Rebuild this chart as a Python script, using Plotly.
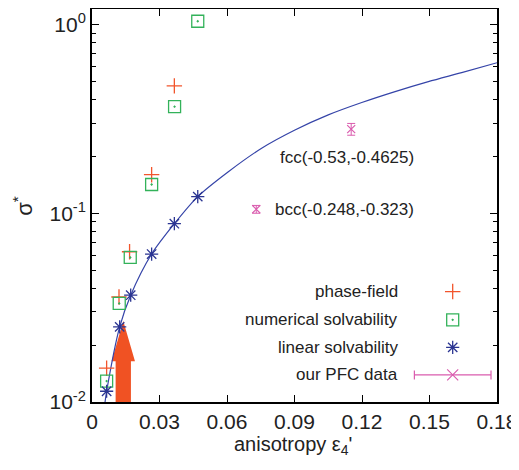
import math
import plotly.graph_objects as go

# ---------------- data ----------------
pf_eps = [0.0065, 0.0120, 0.0167, 0.0265, 0.0366]
pf_sigma = [0.0151, 0.0360, 0.0625, 0.160, 0.473]

num_eps = [0.0065, 0.0121, 0.0170, 0.0265, 0.0367, 0.0470]
num_sigma = [0.0129, 0.0333, 0.0583, 0.142, 0.367, 1.04]

lin_eps = [0.0065, 0.0123, 0.0172, 0.0265, 0.0366, 0.0470]
lin_sigma = [0.0114, 0.0250, 0.0368, 0.0608, 0.0880, 0.1225]

curve_eps = [0.0058, 0.0065, 0.0123, 0.0172, 0.0265, 0.0366, 0.0470, 0.0606,
             0.0754, 0.0902, 0.1050, 0.1199, 0.1347, 0.1495, 0.1643, 0.1800]
curve_sigma = [0.0100, 0.0114, 0.0250, 0.0368, 0.0608, 0.0880, 0.1225, 0.166,
               0.221, 0.276, 0.332, 0.386, 0.441, 0.498, 0.556, 0.627]

pfc_eps = [0.1152, 0.0730]
pfc_sigma = [0.279, 0.105]
pfc_err = [0.020, 0.005]
pfc_labels = ["fcc(-0.53,-0.4625)", "bcc(-0.248,-0.323)"]

legend_names = ["phase-field", "numerical solvability", "linear solvability", "our PFC data"]

y_tickvals = [1, 0.1, 0.01]
y_ticktext = ["10<sup>0</sup>", "10<sup>-1</sup>", "10<sup>-2</sup>"]
x_tickvals = [0, 0.03, 0.06, 0.09, 0.12, 0.15, 0.18]
x_ticktext = ["0", "0.03", "0.06", "0.09", "0.12", "0.15", "0.18"]

# ---------------- styles ----------------
C_PF = "#F2552C"
C_NUM = "#33B25A"
C_LIN = "#2B3592"
C_CURVE = "#3544A8"
C_PFC = "#DA5CAE"
C_ARROW = "#F05223"
TXT = "#222222"
FONT = "Liberation Sans, Arial, sans-serif"

YMIN, YMAX = -2.0, 0.082


def mk(symbol, size, color, width=1.3):
    return dict(symbol=symbol, size=size, color=color, line=dict(color=color, width=width))


fig = go.Figure()

fig.add_trace(go.Scatter(x=curve_eps, y=curve_sigma, mode="lines",
                         line=dict(color=C_CURVE, width=1.2, shape="spline", smoothing=0.8),
                         showlegend=False, hoverinfo="skip"))
fig.add_trace(go.Scatter(x=pf_eps, y=pf_sigma, mode="markers",
                         marker=mk("cross-thin-open", 11, C_PF), showlegend=False))
fig.add_trace(go.Scatter(x=num_eps, y=num_sigma, mode="markers",
                         marker=mk("square-open-dot", 12, C_NUM), showlegend=False))
fig.add_trace(go.Scatter(x=lin_eps, y=lin_sigma, mode="markers",
                         marker=mk("asterisk-open", 11, C_LIN), showlegend=False))
fig.add_trace(go.Scatter(x=pfc_eps, y=pfc_sigma, mode="markers",
                         marker=mk("x-thin-open", 8, C_PFC, 1.2),
                         error_y=dict(type="data", array=pfc_err, color=C_PFC, thickness=1, width=4),
                         showlegend=False))

# ---------------- custom legend (symbols right of text) ----------------
leg_y = [0.281, 0.209, 0.139, 0.069]
leg_x = 0.8906
leg_text_x = 0.7605
leg_syms = [
    mk("cross-thin-open", 11, C_PF),
    mk("square-open-dot", 12, C_NUM),
    mk("asterisk-open", 11, C_LIN),
    mk("x-thin-open", 11, C_PFC, 1.2),
]
for i, (yy, m) in enumerate(zip(leg_y, leg_syms)):
    kw = {}
    if i == 3:
        kw["error_x"] = dict(type="data", array=[0.0946], color=C_PFC, thickness=1.2, width=4.5)
    fig.add_trace(go.Scatter(x=[leg_x], y=[yy], mode="markers", marker=m,
                             xaxis="x2", yaxis="y2", showlegend=False, hoverinfo="skip", **kw))
    fig.add_annotation(x=leg_text_x, y=yy, xref="x2", yref="y2", text=legend_names[i],
                       showarrow=False, xanchor="right", yanchor="middle",
                       font=dict(size=17, color=TXT, family=FONT))

# ---------------- PFC labels ----------------
fig.add_annotation(x=0.0825, y=-0.7056, xref="x", yref="y", text=pfc_labels[0], showarrow=False,
                   xanchor="left", yanchor="middle", font=dict(size=17, color=TXT, family=FONT))
fig.add_annotation(x=0.0805, y=-0.981, xref="x", yref="y", text=pfc_labels[1], showarrow=False,
                   xanchor="left", yanchor="middle", font=dict(size=17, color=TXT, family=FONT))

# ---------------- orange arrow ----------------
def py(v):
    return (math.log10(v) - YMIN) / (YMAX - YMIN)

ax_c, head_hw, shaft_hw = 0.0139, 0.0052, 0.0034
tip_y, base_y, bot_y = 0.0269, 0.01645, 0.0100
path = (f"M {ax_c - shaft_hw},{py(bot_y)} L {ax_c - shaft_hw},{py(base_y)} "
        f"L {ax_c - head_hw},{py(base_y)} L {ax_c},{py(tip_y)} L {ax_c + head_hw},{py(base_y)} "
        f"L {ax_c + shaft_hw},{py(base_y)} L {ax_c + shaft_hw},{py(bot_y)} Z")
fig.add_shape(type="path", path=path, xref="x", yref="paper", fillcolor=C_ARROW,
              line=dict(width=0), layer="below")

# ---------------- axis titles ----------------
fig.add_annotation(x=0.4975, y=-0.110, xref="paper", yref="paper",
                   text="anisotropy ε<sub>4</sub>'", showarrow=False,
                   xanchor="center", yanchor="middle", font=dict(size=20, color=TXT, family=FONT))
fig.add_annotation(x=-0.172, y=0.50, xref="paper", yref="paper", text="σ<sup>*</sup>",
                   textangle=-90, showarrow=False, xanchor="center", yanchor="middle",
                   font=dict(size=22, color=TXT, family=FONT))

axis_common = dict(showline=True, linecolor="black", linewidth=1.8, mirror="allticks",
                   ticks="inside", tickcolor="black", tickwidth=1.4, ticklen=7,
                   showgrid=False, zeroline=False, automargin=False,
                   tickfont=dict(size=21, color=TXT, family=FONT))

# the page body adds an 8px margin; size the figure so the page never scrolls
fig.update_layout(
    template="none",
    width=511, height=454,
    margin=dict(l=84, r=22, t=1, b=60, autoexpand=False),
    paper_bgcolor="white", plot_bgcolor="white",
    showlegend=False,
    font=dict(family=FONT, color=TXT),
    xaxis=dict(range=[0, 0.18], tickvals=x_tickvals, ticktext=x_ticktext, **axis_common),
    yaxis=dict(type="log", range=[YMIN, YMAX], tickvals=y_tickvals, ticktext=y_ticktext,
               minor=dict(ticks="inside", ticklen=4, tickwidth=1.2, tickcolor="black",
                          tickvals=[0.02, 0.03, 0.04, 0.05, 0.06, 0.07, 0.08, 0.09,
                                    0.2, 0.3, 0.4, 0.5, 0.6, 0.7, 0.8, 0.9]),
               **axis_common),
    xaxis2=dict(overlaying="x", range=[0, 1], visible=False, fixedrange=True),
    yaxis2=dict(overlaying="y", range=[0, 1], visible=False, fixedrange=True),
)

fig.write_html("out.html")
